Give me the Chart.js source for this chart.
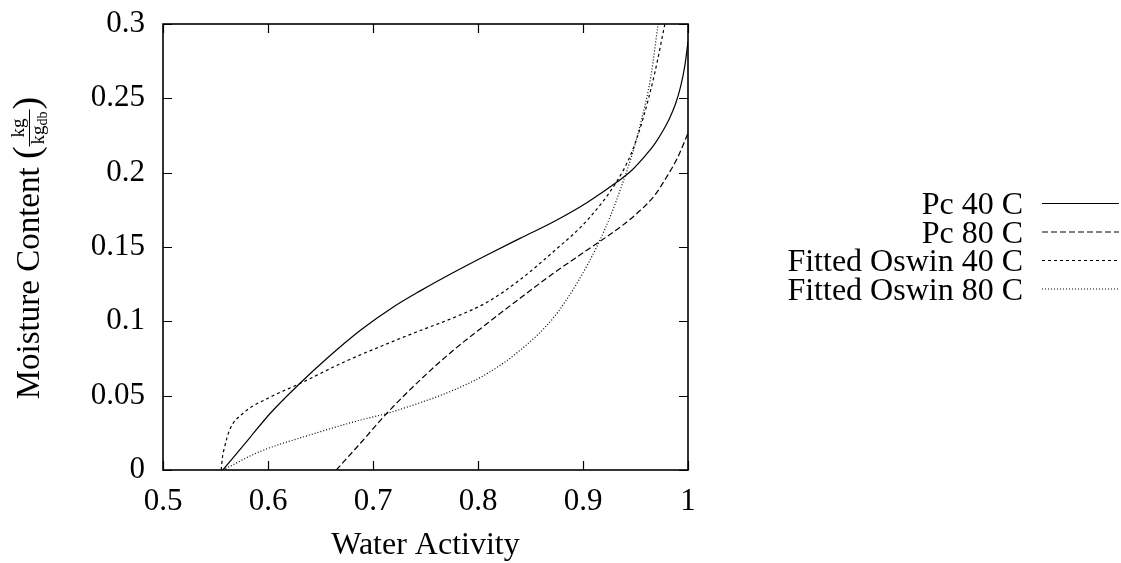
<!DOCTYPE html>
<html>
<head>
<meta charset="utf-8">
<title>Moisture sorption isotherms</title>
<script src="https://cdn.jsdelivr.net/npm/chart.js@4.4.0/dist/chart.umd.min.js"></script>
<style>
  html, body { margin: 0; padding: 0; background: #fff; }
  #wrap { width: 1121px; height: 563px; }
</style>
</head>
<body>
<div id="wrap"><canvas id="chart" width="1121" height="563"></canvas></div>
<script>
// axis ticks
const awTicks = [0.5, 0.6, 0.7, 0.8, 0.9, 1];
const awTickLabels = ['0.5', '0.6', '0.7', '0.8', '0.9', '1'];
const mcTicks = [0, 0.05, 0.1, 0.15, 0.2, 0.25, 0.3];
const mcTickLabels = ['0', '0.05', '0.1', '0.15', '0.2', '0.25', '0.3'];

const seriesNames = ['Pc 40 C', 'Pc 80 C', 'Fitted Oswin 40 C', 'Fitted Oswin 80 C'];

// values (water activity, moisture content kg/kg db)
const pc40Aw = [0.557, 0.583, 0.602, 0.630, 0.656, 0.688, 0.719, 0.745, 0.777, 0.809, 0.840, 0.872, 0.904, 0.933, 0.947, 0.960, 0.968, 0.976, 0.982, 0.988, 0.993, 0.997, 1.0];
const pc40Mc = [0, 0.022, 0.038, 0.058, 0.075, 0.094, 0.1095, 0.1205, 0.133, 0.1448, 0.1558, 0.167, 0.180, 0.194, 0.202, 0.212, 0.219, 0.228, 0.236, 0.246, 0.258, 0.272, 0.288];

const pc80Aw = [0.665, 0.688, 0.713, 0.745, 0.777, 0.809, 0.840, 0.872, 0.904, 0.936, 0.952, 0.968, 0.980, 0.990, 1.0];
const pc80Mc = [0, 0.018, 0.038, 0.0606, 0.0808, 0.0987, 0.1155, 0.1324, 0.148, 0.1637, 0.173, 0.1845, 0.1975, 0.210, 0.2266];

const oswin40Aw = [0.5555, 0.5565, 0.558, 0.5635, 0.576, 0.602, 0.630, 0.672, 0.719, 0.745, 0.777, 0.809, 0.840, 0.872, 0.904, 0.933, 0.946, 0.957, 0.968, 0.978];
const oswin40Mc = [0, 0.008, 0.0135, 0.027, 0.038, 0.049, 0.058, 0.0725, 0.0865, 0.0938, 0.1025, 0.113, 0.128, 0.147, 0.168, 0.195, 0.213, 0.236, 0.266, 0.3];

const oswin80Aw = [0.557, 0.592, 0.640, 0.688, 0.713, 0.745, 0.777, 0.809, 0.840, 0.872, 0.895, 0.914, 0.9265, 0.936, 0.9456, 0.955, 0.9647, 0.9715];
const oswin80Mc = [0, 0.0123, 0.0236, 0.0336, 0.038, 0.0453, 0.0538, 0.065, 0.0805, 0.1025, 0.1265, 0.1515, 0.1715, 0.1895, 0.2095, 0.2335, 0.265, 0.3];

const SERIF = '"Liberation Serif", "Times New Roman", serif';

function pairs(xs, ys) { return xs.map((x, i) => ({ x: x, y: ys[i] })); }

function series(label, xs, ys, dash) {
  return {
    label: label,
    data: pairs(xs, ys),
    showLine: true,
    borderColor: '#000',
    borderWidth: 1.2,
    borderDash: dash,
    pointRadius: 0,
    cubicInterpolationMode: 'monotone',
    fill: false
  };
}

// gnuplot-like frame with inward ticks on all four sides
const framePlugin = {
  id: 'frame',
  afterDatasetsDraw(chart) {
    const { ctx, chartArea: a, scales } = chart;
    const tl = 9;
    ctx.save();
    ctx.strokeStyle = '#000';
    ctx.lineWidth = 1.2;
    ctx.beginPath();
    awTicks.forEach(v => {
      const px = Math.round(scales.x.getPixelForValue(v)) + 0.5;
      ctx.moveTo(px, a.bottom); ctx.lineTo(px, a.bottom - tl);
      ctx.moveTo(px, a.top); ctx.lineTo(px, a.top + tl);
    });
    mcTicks.forEach(v => {
      const py = Math.round(scales.y.getPixelForValue(v)) + 0.5;
      ctx.moveTo(a.left, py); ctx.lineTo(a.left + tl, py);
      ctx.moveTo(a.right, py); ctx.lineTo(a.right - tl, py);
    });
    ctx.stroke();
    ctx.lineWidth = 1.6;
    ctx.strokeRect(a.left, a.top, a.right - a.left, a.bottom - a.top);
    ctx.restore();
  }
};

// right-aligned legend with the line sample to the right of the text
const legendPlugin = {
  id: 'sideLegend',
  afterDraw(chart) {
    const ctx = chart.ctx;
    ctx.save();
    ctx.font = '32px ' + SERIF;
    ctx.fillStyle = '#000';
    ctx.textAlign = 'right';
    ctx.textBaseline = 'alphabetic';
    chart.data.datasets.forEach((ds, i) => {
      const base = 214 + i * 28.5;
      ctx.fillText(ds.label, 1023, base);
      ctx.setLineDash(ds.borderDash || []);
      ctx.strokeStyle = ds.borderColor;
      ctx.lineWidth = ds.borderWidth;
      ctx.beginPath();
      ctx.moveTo(1042, base - 10.5);
      ctx.lineTo(1119, base - 10.5);
      ctx.stroke();
    });
    ctx.restore();
  }
};

// y title: Moisture Content (kg / kg_db)
const yTitlePlugin = {
  id: 'yTitle',
  afterDraw(chart) {
    const ctx = chart.ctx;
    ctx.save();
    ctx.translate(39, 248);
    ctx.rotate(-Math.PI / 2);
    ctx.fillStyle = '#000';
    ctx.strokeStyle = '#000';
    ctx.textAlign = 'left';
    ctx.textBaseline = 'alphabetic';
    const main = 'Moisture Content ';
    ctx.font = '33px ' + SERIF; const wMain = ctx.measureText(main).width;
    ctx.font = '38px ' + SERIF; const wParen = ctx.measureText('(').width;
    ctx.font = '19px ' + SERIF; const wKg = ctx.measureText('kg').width;
    ctx.font = '14px ' + SERIF; const wDb = ctx.measureText('db').width;
    const wFrac = wKg + wDb + 4;
    let u = -(wMain + 2 * wParen + wFrac) / 2;
    ctx.font = '33px ' + SERIF; ctx.fillText(main, u, 0); u += wMain;
    ctx.font = '38px ' + SERIF; ctx.fillText('(', u, 0); u += wParen;
    ctx.lineWidth = 1;
    ctx.beginPath(); ctx.moveTo(u, -9.5); ctx.lineTo(u + wFrac, -9.5); ctx.stroke();
    ctx.font = '19px ' + SERIF; ctx.fillText('kg', u + (wFrac - wKg) / 2, -15);
    const dx = u + 2;
    ctx.fillText('kg', dx, 5);
    ctx.font = '14px ' + SERIF; ctx.fillText('db', dx + wKg, 8);
    u += wFrac;
    ctx.font = '38px ' + SERIF; ctx.fillText(')', u, 0);
    ctx.restore();
  }
};

const chart = new Chart(document.getElementById('chart').getContext('2d'), {
  type: 'scatter',
  data: {
    datasets: [
      series(seriesNames[0], pc40Aw, pc40Mc, []),
      series(seriesNames[1], pc80Aw, pc80Mc, [6, 3]),
      series(seriesNames[2], oswin40Aw, oswin40Mc, [3, 3]),
      series(seriesNames[3], oswin80Aw, oswin80Mc, [1, 2])
    ]
  },
  options: {
    responsive: false,
    animation: false,
    layout: { padding: { left: 0, right: 433, top: 24, bottom: 0 } },
    plugins: { legend: { display: false }, tooltip: { enabled: false } },
    scales: {
      x: {
        type: 'linear', min: 0.5, max: 1,
        grid: { display: false, drawTicks: false },
        border: { display: false },
        afterBuildTicks: s => { s.ticks = awTicks.map(v => ({ value: v })); },
        afterFit: s => { s.height = 93; s.paddingLeft = 0; s.paddingRight = 0; },
        ticks: {
          color: '#000', padding: 13, maxRotation: 0,
          font: { family: SERIF, size: 31 },
          callback: v => awTickLabels[awTicks.indexOf(v)]
        },
        title: {
          display: true, text: 'Water Activity', color: '#000',
          font: { family: SERIF, size: 32, lineHeight: 1.1 },
          padding: { top: 0, bottom: 0 }
        }
      },
      y: {
        type: 'linear', min: 0, max: 0.3,
        grid: { display: false, drawTicks: false },
        border: { display: false },
        afterBuildTicks: s => { s.ticks = mcTicks.map(v => ({ value: v })); },
        afterFit: s => { s.width = 163; s.paddingTop = 0; s.paddingBottom = 0; },
        ticks: {
          color: '#000', padding: 18,
          font: { family: SERIF, size: 31 },
          callback: v => mcTickLabels[mcTicks.indexOf(v)]
        }
      }
    }
  },
  plugins: [framePlugin, legendPlugin, yTitlePlugin]
});
</script>
</body>
</html>
